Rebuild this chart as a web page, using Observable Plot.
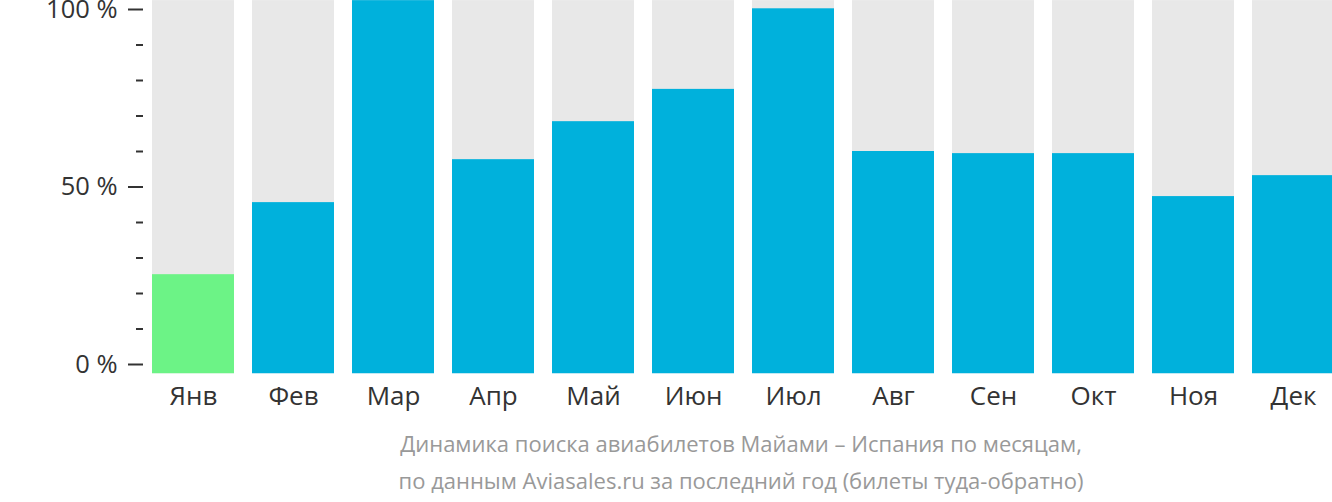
<!DOCTYPE html>
<html>
<head>
<meta charset="utf-8">
<script src="https://cdn.jsdelivr.net/npm/d3@7"></script>
<script src="https://cdn.jsdelivr.net/npm/@observablehq/plot@0.6"></script>
<style>
  html, body { margin: 0; padding: 0; background: #fff; overflow: hidden; }
  #chart svg { display: block; }
  #caption {
    width: 1482px;
    text-align: center;
    font-family: "Open Sans", sans-serif;
    font-size: 22px;
    color: #999;
    line-height: 37px;
    margin-top: 5px;
  }
</style>
</head>
<body>
<div id="chart"></div>
<div id="caption">Динамика поиска авиабилетов Майами – Испания по месяцам,<br>по данным Aviasales.ru за последний год (билеты туда-обратно)</div>
<script>
const months = ["Янв","Фев","Мар","Апр","Май","Июн","Июл","Авг","Сен","Окт","Ноя","Дек"];
const values = [25.3, 45.6, 102.5, 57.7, 68.4, 77.5, 100.2, 60.0, 59.4, 59.4, 47.3, 53.2];
const bgFloor = -2.6;
const bgCeil = 102.5;
const majorTicks = [0, 50, 100];
const minorTicks = [10, 20, 30, 40, 60, 70, 80, 90];

const data = months.map((m, i) => ({month: m, value: values[i]}));
const minVal = d3.min(values);

const H = 420;
const chart = Plot.plot({
  width: 1332,
  height: H,
  marginTop: 9,
  marginBottom: H - 364,
  marginLeft: 143,
  marginRight: -11,
  style: {fontFamily: "'Open Sans', sans-serif", color: "#333", background: "#fff", overflow: "visible"},
  x: {domain: months, paddingInner: 0.18, paddingOuter: 0.09, label: null},
  y: {domain: [0, 100], label: null},
  marks: [
    Plot.barY(data, {x: "month", y1: bgFloor, y2: bgCeil, fill: "#e8e8e8"}),
    Plot.barY(data, {x: "month", y1: bgFloor, y2: "value",
      fill: d => d.value === minVal ? "#6cf386" : "#00b1dc"}),
    Plot.axisY({ticks: majorTicks, tickSize: 15, tickPadding: 11, strokeWidth: 2,
      tickFormat: d => d + " %", fontSize: 25.5, label: null}),
    Plot.axisY({ticks: minorTicks, tickSize: 7, strokeWidth: 2, tickFormat: () => "", label: null}),
    Plot.axisX({tickSize: 0, tickPadding: 22, fontSize: 26, label: null})
  ]
});
document.getElementById("chart").appendChild(chart);
</script>
</body>
</html>
